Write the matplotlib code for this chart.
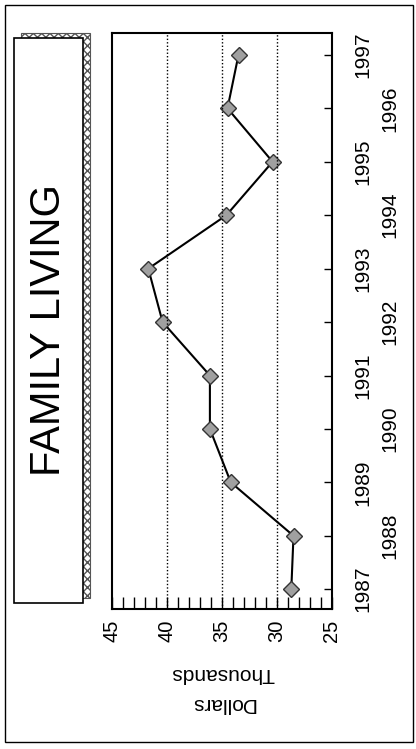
import numpy as np
import matplotlib
matplotlib.use('Agg')
import matplotlib.pyplot as plt
from matplotlib.patches import Rectangle
from matplotlib.ticker import MultipleLocator

plt.rcParams['font.family'] = ['Liberation Sans', 'DejaVu Sans']

years = [1987, 1988, 1989, 1990, 1991, 1992, 1993, 1994, 1995, 1996, 1997]
family_living = [28.7, 28.5, 34.2, 36.1, 36.1, 40.4, 41.7, 34.6, 30.4, 34.5, 33.5]
value_ticks = [45, 40, 35, 30, 25]
grid_values = [40, 35, 30]

W, H = 416, 749
fig = plt.figure(figsize=(W / 100, H / 100), dpi=100)

def fx(px):
    return px / W

def fy(py):
    return 1 - py / H

# outer border of the page
fig.add_artist(Rectangle((fx(5), fy(742)), fx(408), (737) / H, transform=fig.transFigure,
                         fill=False, edgecolor='black', linewidth=1.0))

# title box with hatched shadow
fig.add_artist(Rectangle((fx(21), fy(598)), fx(69), 565 / H, transform=fig.transFigure,
                         facecolor='white', edgecolor='#555555', hatch='xxxx', linewidth=0.8))
fig.add_artist(Rectangle((fx(14), fy(603)), fx(69), 565 / H, transform=fig.transFigure,
                         facecolor='white', edgecolor='black', linewidth=1.2))
fig.text(fx(49), fy(330), 'FAMILY LIVING', rotation=90, ha='center', va='center',
         fontsize=30)

# main plot (chart is rotated 90 degrees)
ax = fig.add_axes([fx(112), fy(609), fx(220), 576 / H])
ax.plot(family_living, years, color='black', linewidth=1.5, marker='D', markersize=8.5,
        markerfacecolor='#a0a0a0', markeredgecolor='#333333', markeredgewidth=1.0)
ax.set_xlim(45, 25)
ax.set_ylim(1986.63, 1997.41)

for v in grid_values:
    ax.axvline(v, color='black', linestyle=(0, (1, 1.5)), linewidth=1.0)

ax.set_xticks(value_ticks)
ax.set_xticklabels([str(v) for v in value_ticks], rotation=90, fontsize=14.5)
ax.xaxis.set_minor_locator(MultipleLocator(1))
ax.tick_params(axis='x', which='both', direction='in', length=9, width=1.0, pad=8, top=False)

ax.yaxis.tick_right()
ax.set_yticks(years)
ax.set_yticklabels([])
ax.tick_params(axis='y', which='both', direction='in', length=6, width=1.0, left=False)

# staggered year labels
for i, yr in enumerate(years):
    xpos = 1.141 if i % 2 == 0 else 1.264
    ax.text(xpos, yr, str(yr), transform=ax.get_yaxis_transform(), rotation=90,
            ha='center', va='center', fontsize=15, clip_on=False)

for s in ax.spines.values():
    s.set_linewidth(1.5)

# upside-down axis title
fig.text(fx(223), fy(673), 'Thousands', rotation=180, ha='center', va='center', fontsize=15)
fig.text(fx(223), fy(703), 'Dollars', rotation=180, ha='center', va='center', fontsize=15)

fig.savefig('out.png', dpi=100)
